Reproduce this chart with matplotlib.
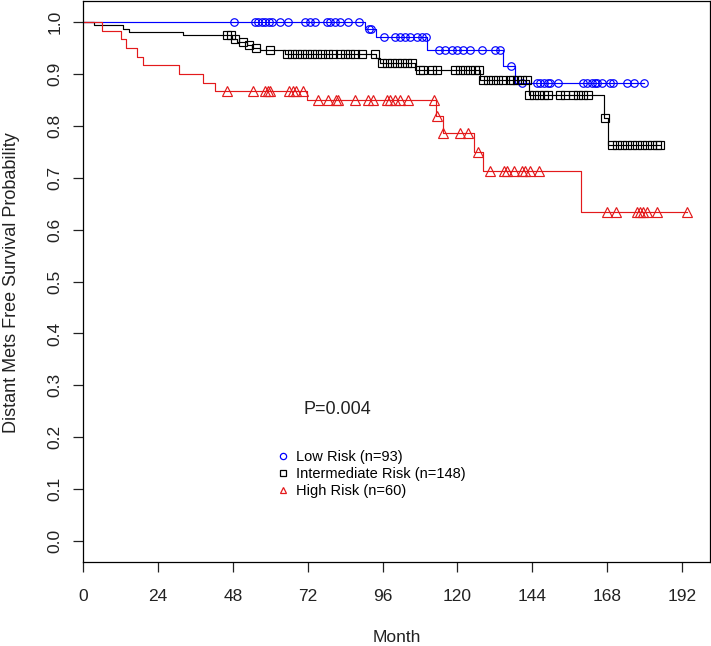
import numpy as np
import matplotlib.pyplot as plt
from matplotlib.lines import Line2D

# Kaplan-Meier steps (time in months, survival)
low_t = [0, 90.4, 93.9, 110.2, 134.5, 138.3]
low_s = [1.0, 0.986, 0.971, 0.945, 0.915, 0.883]
low_cens = [48.3, 55.1, 56.1, 57.2, 58.3, 59.4, 60.4, 63.1, 65.8, 71.1, 72.7, 74.3,
            78.1, 79.2, 80.8, 82.4, 85, 88.4, 91.5, 92.2, 96.5, 100, 101.6, 103.2,
            104.8, 107, 108.6, 109.9, 114.2, 116, 118.2, 119.8, 121.9, 124.1, 128,
            132.1, 133.7, 137.1, 140.6, 145.5, 146.5, 147.6, 149.2, 149.7, 152.4,
            160.4, 161.5, 163.1, 164.2, 164.7, 166.3, 169, 170, 174.3, 176.5, 179.7]

int_t = [0, 3.5, 12.8, 14.8, 32.1, 47.6, 49.2, 52.4, 54, 56.6, 64.7, 94, 95,
         106.4, 127.3, 142.8, 167, 168.4]
int_s = [1.0, 0.993, 0.987, 0.980, 0.974, 0.967, 0.961, 0.956, 0.950, 0.945, 0.938,
         0.930, 0.920, 0.9075, 0.888, 0.859, 0.8145, 0.763]
int_cens = [46, 47.5, 48.5, 51.3, 53, 55.4, 60, 65.3, 66.8, 68.5, 70, 71.7, 73.3,
            74.9, 76.5, 78.6, 80.2, 82.4, 84, 85.6, 87.2, 89.3, 93.6, 95.7, 97.3,
            98.9, 100.5, 102.1, 103.8, 105.4, 108, 109.1, 111.8, 113.4, 119.3,
            120.9, 122.5, 124.1, 125.7, 126.8, 128.3, 129.9, 131.5, 133.1, 134.7,
            136.9, 137.9, 139, 140.6, 142.3, 143.1, 144.4, 146, 147.6, 149.2,
            152.9, 154.5, 157.2, 158.8, 160.4, 162, 167.4, 169.5, 171.1, 172.7,
            174.3, 175.9, 177.5, 179.1, 180.8, 182.4, 184, 185]

high_t = [0, 6.1, 12, 13.6, 17.1, 19.2, 30.8, 38.3, 42.3, 71.7, 113, 115.3, 125.3,
          128.3, 159.7]
high_s = [1.0, 0.983, 0.967, 0.950, 0.933, 0.917, 0.900, 0.883, 0.867, 0.849,
          0.818, 0.785, 0.750, 0.712, 0.633]
high_cens = [46, 54.5, 58.3, 59.1, 59.9, 66.1, 67.4, 68.3, 70.6, 75.4, 78.6, 81,
             81.6, 87.2, 91.4, 93, 97.3, 98.4, 100, 101.6, 104.3, 112.6, 113.5,
             115.5, 120.9, 123.5, 126.5, 130.6, 134.8, 135.8, 138, 140.6, 141.7,
             143.3, 146, 168, 171, 177.5, 178.5, 179.5, 180.8, 184, 193.6]

labels = ['Low Risk (n=93)', 'Intermediate Risk (n=148)', 'High Risk (n=60)']
colors = ['#0000FF', 'black', '#E31A1C']
markers = ['o', 's', '^']
msizes = [5.4, 5.2, 6.6]

plt.rcParams['font.family'] = ['Liberation Sans', 'DejaVu Sans']

fig = plt.figure(figsize=(7.11, 6.46), dpi=100)
ax = fig.add_axes([83.3 / 711, (646 - 562) / 646, (710 - 83.3) / 711, 561 / 646])

curves = [(low_t, low_s, low_cens), (int_t, int_s, int_cens), (high_t, high_s, high_cens)]
for (t, s, c), col, m, ms in zip(curves, colors, markers, msizes):
    t = np.array(t, dtype=float)
    s = np.array(s, dtype=float)
    c = np.array(c, dtype=float)
    end = c.max()
    tt = np.append(t, end)
    ss = np.append(s, s[-1])
    ax.step(tt, ss, where='post', color=col, lw=0.85)
    cy = s[np.searchsorted(t, c, side='right') - 1]
    ax.plot(c, cy, linestyle='none', marker=m, markersize=ms, markerfacecolor='none',
            markeredgecolor=col, markeredgewidth=0.85)

ax.set_xlim(0, 201)
ax.set_ylim(-0.04, 1.04)
ax.set_xticks(np.arange(0, 193, 24))
ax.set_yticks(np.arange(0, 1.01, 0.1))
ax.set_yticklabels(['%.1f' % v for v in np.arange(0, 1.01, 0.1)])

for sp in ax.spines.values():
    sp.set_linewidth(0.9)
    sp.set_color('black')
ax.tick_params(direction='out', length=7.2, width=0.9, labelsize=12.5, colors='#222222')
ax.tick_params(axis='x', pad=12.5)
ax.tick_params(axis='y', pad=8)
for lab in ax.get_yticklabels():
    lab.set_rotation(90)
    lab.set_va('center')

fig.text(396.7 / 711, 1 - 638 / 646, 'Month', ha='center', va='center',
         fontsize=12.5, color='#222222')
fig.text(12 / 711, 1 - 283 / 646, 'Distant Mets Free Survival Probability',
         ha='center', va='center', rotation=90, fontsize=13, color='#222222')

ax.text(70.5, 0.254, 'P=0.004', ha='left', va='center', fontsize=13, color='#222222')

handles = [Line2D([], [], linestyle='none', marker=m, markersize=4.5,
                  markerfacecolor='none', markeredgecolor=col, markeredgewidth=0.9)
           for m, col in zip(markers, colors)]
ax.legend(handles, labels, loc='upper left', bbox_to_anchor=(0.3075, 0.2),
          frameon=False, fontsize=10.5, handlelength=1.0, handletextpad=0.35,
          labelspacing=0.22, borderpad=0, borderaxespad=0)

fig.savefig('out.png', dpi=100)
